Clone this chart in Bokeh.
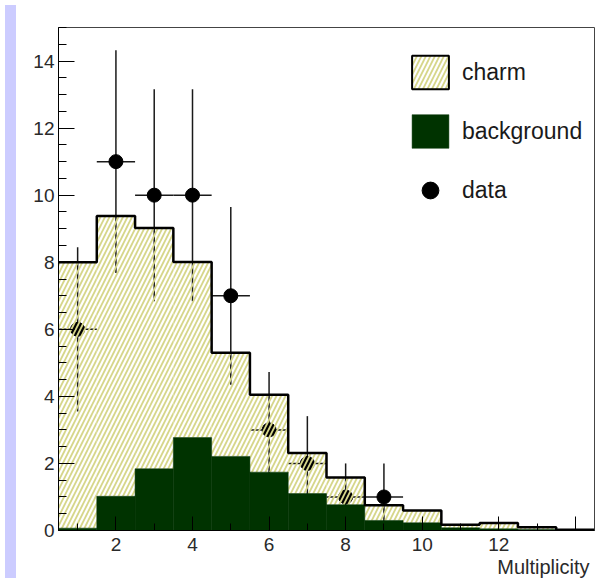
from bokeh.plotting import figure
from bokeh.models import (ColumnDataSource, FixedTicker, Legend, LegendItem, Title, Div, Range1d)
from bokeh.layouts import row
from bokeh.embed import file_html
from bokeh.resources import INLINE

# ---- data ----
bin_centers = [1, 2, 3, 4, 5, 6, 7, 8, 9, 10, 11, 12, 13, 14]
total_mc = [8.0, 9.38, 9.02, 8.01, 5.3, 4.05, 2.31, 1.58, 0.75, 0.6, 0.17, 0.22, 0.1, 0.02]
background = [0.07, 1.02, 1.84, 2.77, 2.21, 1.74, 1.1, 0.77, 0.3, 0.23, 0.08, 0.05, 0.03, 0.0]
data_x = [1, 2, 3, 4, 5, 6, 7, 8, 9]
data_y = [6, 11, 10, 10, 7, 3, 2, 1, 1]
data_err = [2.45, 3.32, 3.16, 3.16, 2.65, 1.73, 1.41, 1.0, 1.0]
bin_width = 1.0
x_major = [2, 4, 6, 8, 10, 12, 14]
y_major = [0, 2, 4, 6, 8, 10, 12, 14]

left = [c - bin_width / 2 for c in bin_centers]
right = [c + bin_width / 2 for c in bin_centers]

HATCH = "#d6d68a"
GREEN = "#003300"
FONT = "Liberation Sans"
LAV = "#ccccff"

FW, FH = 578, 578
p = figure(width=FW, height=FH, output_backend="svg", toolbar_location=None,
           x_range=Range1d(0.5, 14.5), y_range=Range1d(0, 15),
           min_border_left=37, min_border_right=5, min_border_top=27, min_border_bottom=48)
p.background_fill_color = "white"
p.border_fill_color = "white"
p.outline_line_color = "#444444"
p.outline_line_width = 1
p.xgrid.visible = False
p.ygrid.visible = False

# data error bars and points (drawn first, covered by hatch)
src_d = ColumnDataSource(dict(
    x=data_x, y=data_y,
    lo=[y - e for y, e in zip(data_y, data_err)],
    hi=[y + e for y, e in zip(data_y, data_err)],
    xl=[x - bin_width / 2 for x in data_x],
    xr=[x + bin_width / 2 for x in data_x],
))
p.segment(x0="x", y0="lo", x1="x", y1="hi", source=src_d, line_color="#1a1a1a", line_width=1.5)
p.segment(x0="xl", y0="y", x1="xr", y1="y", source=src_d, line_color="#1a1a1a", line_width=1.5)
r_d = p.scatter(x="x", y="y", source=src_d, size=14, fill_color="black", line_color="black")

# charm (hatched, on top of data)
src_h = ColumnDataSource(dict(left=left, right=right, bottom=background, top=total_mc))
p.quad(left="left", right="right", bottom="bottom", top="top", source=src_h,
       fill_alpha=0, line_alpha=0, hatch_pattern="/", hatch_color=HATCH,
       hatch_weight=1.8, hatch_scale=9)

# background
src_b = ColumnDataSource(dict(left=left, right=right, bottom=[0] * len(background), top=background))
r_b = p.quad(left="left", right="right", bottom="bottom", top="top", source=src_b,
             fill_color=GREEN, line_color=GREEN, line_width=0.5)

# total outline
edges = left + [right[-1]]
p.step(x=edges, y=total_mc + [total_mc[-1]], mode="after", line_color="black", line_width=2.5)

# legend-only renderer for the charm swatch (hidden in the plot)
r_c = p.quad(left="left", right="right", bottom="bottom", top="top", source=src_h,
             fill_color="white", hatch_pattern="/", hatch_color=HATCH, hatch_weight=1.8,
             hatch_scale=9, line_color="black", line_width=2, visible=False)

legend = Legend(items=[LegendItem(label="charm", renderers=[r_c]),
                       LegendItem(label="background", renderers=[r_b]),
                       LegendItem(label="data", renderers=[r_d])],
                location=(349, 319), glyph_width=46, glyph_height=42, label_height=42,
                spacing=17, padding=0, margin=0, label_standoff=9,
                label_text_font=FONT, label_text_font_size="23px", label_text_color="#1a1a1a",
                background_fill_alpha=0, border_line_alpha=0, click_policy="none")
p.add_layout(legend)

# axes
for ax in (p.xaxis[0], p.yaxis[0]):
    ax.major_tick_out = 0
    ax.minor_tick_out = 0
    ax.major_label_text_font = FONT
    ax.major_label_text_font_size = "19px"
    ax.major_label_text_color = "#2a2a2a"
    ax.axis_line_color = "black"
    ax.major_tick_line_color = "black"
    ax.minor_tick_line_color = "black"

p.yaxis.ticker = FixedTicker(ticks=y_major, minor_ticks=[v / 2 for v in range(0, 31)])
p.yaxis.major_tick_in = 16
p.yaxis.minor_tick_in = 8
p.yaxis.major_label_standoff = 4

p.xaxis.ticker = FixedTicker(ticks=x_major, minor_ticks=list(range(1, 15)))
p.xaxis.major_tick_in = 14
p.xaxis.minor_tick_in = 7
p.xaxis.major_label_standoff = 7
p.xaxis.major_label_overrides = {14: ""}

p.add_layout(Title(text="Multiplicity", align="right", offset=5, standoff=0,
                   text_font=FONT, text_font_size="20px", text_font_style="normal",
                   text_color="#2a2a2a"), "below")

side = Div(width=11, height=FH, styles={"background-color": LAV})
layout = row(side, p, spacing=0)
open("out.html", "w").write(file_html(layout, INLINE))
